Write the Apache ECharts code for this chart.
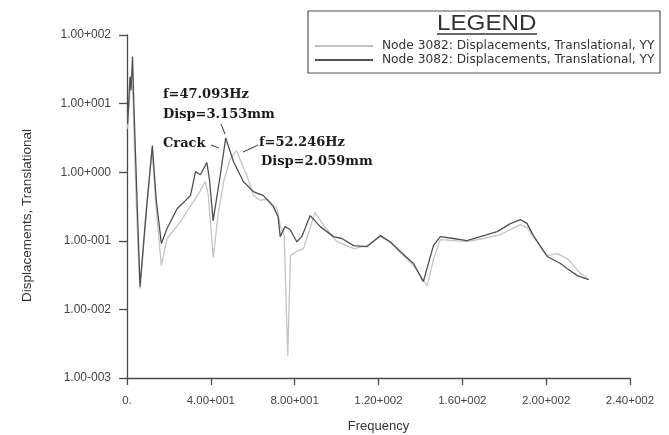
<!DOCTYPE html>
<html>
<head>
<meta charset="utf-8">
<title>Displacements vs Frequency</title>
<script src="https://cdn.jsdelivr.net/npm/echarts@6/dist/echarts.min.js"></script>
<style>
    html, body { margin: 0; padding: 0; background: #fff; }
    #main { width: 669px; height: 435px; }
</style>
</head>
<body>
<div id="main"></div>
<script>
// intact beam (light curve)
var freqIntact = [0.3, 1.43, 2.15, 2.87, 3.82, 5.25, 6.21, 9.07, 11.9, 13.9, 16.4, 19.1, 25.5, 31.7, 35.0, 37.3, 38.7, 41.2,
    43.5, 46.1, 49.3, 52.246, 57.2, 60.4, 63.5, 66.9, 71.5, 73.1, 75.0, 76.7, 78.0, 81.0, 84.2, 89.7, 93.9, 100.2, 108.2,
    114.5, 121.0, 125.7, 130.5, 136.7, 143.3, 146.3, 149.5, 155.7, 162.2, 170.0, 178.1, 187.7, 191.0, 193.9, 200.5, 205.3,
    210.1, 216.5, 220.3];
var dispIntact = [4.32, 15.5, 26.5, 11.8, 1.13, 0.077, 0.0201, 0.211, 2.21, 0.294, 0.0435, 0.108, 0.19, 0.373, 0.54, 0.73, 0.488, 0.0569,
    0.249, 0.73, 1.58, 2.059, 0.89, 0.456, 0.389, 0.41, 0.294, 0.167, 0.119, 0.00212, 0.0608, 0.070, 0.077, 0.258, 0.167, 0.097, 0.077,
    0.085, 0.115, 0.094, 0.067, 0.0435, 0.0222, 0.055, 0.104, 0.1007, 0.097, 0.108, 0.123, 0.172, 0.156, 0.115, 0.0608, 0.065,
    0.055, 0.0333, 0.0272];

// cracked beam (dark curve)
var freqCrack = [0.3, 1.43, 1.91, 2.63, 3.34, 4.78, 6.21, 9.07, 12.1, 13.9, 16.4, 19.1, 23.9, 30.3, 32.7, 35.0, 38.1, 39.3, 41.1,
    44.6, 47.093, 50.8, 55.5, 60.3, 65.1, 69.8, 72.1, 73.1, 75.4, 77.8, 81.0, 83.4, 87.4, 92.2, 98.5, 102.5, 108.1, 114.5,
    120.9, 125.6, 130.4, 136.7, 141.4, 146.2, 149.5, 155.7, 162.2, 168.6, 176.6, 182.9, 187.7, 190.9, 193.9, 200.5, 206.8,
    210.0, 214.8, 220.3];
var dispCrack = [5.1, 24.8, 15.5, 48.4, 8.5, 0.41, 0.0215, 0.249, 2.44, 0.41, 0.091, 0.151, 0.294, 0.456, 1.02, 0.92, 1.38, 0.81, 0.197,
    0.95, 3.153, 1.43, 0.73, 0.52, 0.456, 0.315, 0.225, 0.115, 0.161, 0.146, 0.097, 0.115, 0.233, 0.161, 0.115, 0.108, 0.085, 0.082,
    0.119, 0.097, 0.070, 0.0466, 0.0254, 0.085, 0.115, 0.108, 0.1007, 0.115, 0.136, 0.178, 0.204, 0.178, 0.119, 0.059, 0.0466,
    0.0394, 0.0311, 0.0272];

var xTicks = [0, 40, 80, 120, 160, 200, 240];
var xTickLabels = ['0.', '4.00+001', '8.00+001', '1.20+002', '1.60+002', '2.00+002', '2.40+002'];
var yTicks = [0.001, 0.01, 0.1, 1, 10, 100];
var yTickLabels = ['1.00-003', '1.00-002', '1.00-001', '1.00+000', '1.00+001', '1.00+002'];

var legendText = 'Node 3082: Displacements, Translational, YY';

function pairs(xs, ys) {
    var out = [];
    for (var i = 0; i < xs.length; i++) {
        out.push([xs[i], ys[i]]);
    }
    return out;
}

function tickLabel(ticks, labels, v) {
    for (var i = 0; i < ticks.length; i++) {
        if (Math.abs(v - ticks[i]) <= ticks[i] * 1e-6 + 1e-9) return labels[i];
    }
    return '';
}

var myChart = echarts.init(document.getElementById('main'));

var axisGray = '#4a4a4a';
var serif = '"DejaVu Serif", "Liberation Serif", serif';

var option = {
    backgroundColor: '#fff',
    animation: false,
    grid: {left: 127, right: 39, top: 35, bottom: 57, outerBoundsMode: 'none'},
    legend: {
        data: ['intact', 'cracked'],
        orient: 'vertical',
        left: 315,
        top: 40,
        padding: 0,
        itemWidth: 58,
        itemHeight: 2,
        itemGap: 2,
        icon: 'rect',
        formatter: function () { return legendText; },
        textStyle: {fontFamily: 'DejaVu Sans', fontSize: 12.2, color: '#333', padding: [0, 0, 0, 4]}
    },
    xAxis: {
        type: 'value',
        min: 0,
        max: 240,
        interval: 40,
        name: 'Frequency',
        nameLocation: 'middle',
        nameGap: 42,
        nameTextStyle: {fontFamily: 'Liberation Sans', fontSize: 13, color: '#333'},
        axisLine: {lineStyle: {color: axisGray, width: 1.3}},
        axisTick: {length: 7, lineStyle: {color: axisGray, width: 1.3}},
        axisLabel: {
            margin: 17,
            fontFamily: 'Liberation Sans',
            fontSize: 11.5,
            color: '#444',
            formatter: function (v) { return tickLabel(xTicks, xTickLabels, v); }
        },
        splitLine: {show: false}
    },
    yAxis: {
        type: 'log',
        logBase: 10,
        min: 0.001,
        max: 100,
        splitNumber: 5,
        name: 'Displacements, Translational',
        nameLocation: 'middle',
        nameRotate: 90,
        nameGap: 93,
        nameTextStyle: {fontFamily: 'Liberation Sans', fontSize: 13.5, color: '#333', padding: [0, 18, 0, 0]},
        axisLine: {show: true, lineStyle: {color: axisGray, width: 1.3}},
        axisTick: {show: true, length: 8, lineStyle: {color: axisGray, width: 1.3}},
        axisLabel: {
            margin: 16,
            fontFamily: 'Liberation Sans',
            fontSize: 12,
            color: '#444',
            formatter: function (v) { return tickLabel(yTicks, yTickLabels, v); }
        },
        splitLine: {show: false}
    },
    series: [
        {
            name: 'intact',
            type: 'line',
            data: pairs(freqIntact, dispIntact),
            symbol: 'none',
            color: '#c4c4c4',
            lineStyle: {color: '#c4c4c4', width: 1.3}
        },
        {
            name: 'cracked',
            type: 'line',
            data: pairs(freqCrack, dispCrack),
            symbol: 'none',
            color: '#505050',
            lineStyle: {color: '#505050', width: 1.3}
        }
    ],
    graphic: [
        // legend frame and title
        {type: 'rect', shape: {x: 308, y: 11, width: 352, height: 62}, style: {fill: 'none', stroke: '#555', lineWidth: 1.2}, z: 1},
        {type: 'text', x: 437, y: 13, scaleX: 1.1, style: {text: 'LEGEND', font: '22px "Liberation Sans"', fill: '#333'}},
        {type: 'line', shape: {x1: 437, y1: 34, x2: 537, y2: 34}, style: {stroke: '#333', lineWidth: 1.3}},
        // peak notes
        {type: 'text', left: 163, top: 88, style: {text: 'f=47.093Hz', font: 'bold 13px ' + serif, fill: '#1a1a1a'}},
        {type: 'text', left: 163, top: 108, style: {text: 'Disp=3.153mm', font: 'bold 13px ' + serif, fill: '#1a1a1a'}},
        {type: 'text', left: 163, top: 137, style: {text: 'Crack', font: 'bold 13px ' + serif, fill: '#1a1a1a'}},
        {type: 'text', left: 259, top: 136, style: {text: 'f=52.246Hz', font: 'bold 13px ' + serif, fill: '#1a1a1a'}},
        {type: 'text', left: 261, top: 155, style: {text: 'Disp=2.059mm', font: 'bold 13px ' + serif, fill: '#1a1a1a'}},
        {type: 'polyline', shape: {points: [[221, 124], [225, 134]]}, style: {stroke: '#333', lineWidth: 1}},
        {type: 'polyline', shape: {points: [[211, 145], [219, 148]]}, style: {stroke: '#333', lineWidth: 1}},
        {type: 'polyline', shape: {points: [[258, 145], [254, 147], [243, 152]]}, style: {stroke: '#333', lineWidth: 1}}
    ]
};

myChart.setOption(option);
</script>
</body>
</html>
